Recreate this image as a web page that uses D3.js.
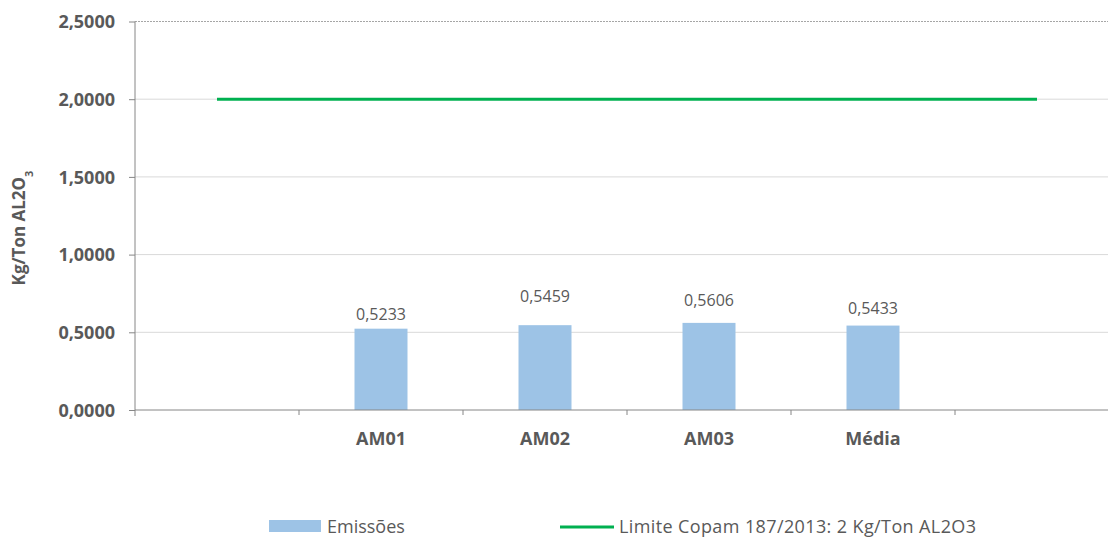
<!DOCTYPE html>
<html>
<head>
<meta charset="utf-8">
<script src="https://cdn.jsdelivr.net/npm/d3@7"></script>
<style>
	body { margin: 0; background: #fff; }
	text { font-family: "Open Sans", sans-serif; fill: #595959; }
</style>
</head>
<body>
<svg id="mainsvg" width="1108" height="537"></svg>
<script>
// data
var categories = ["", "AM01", "AM02", "AM03", "Média", ""];
var emissoes = [null, 0.5233, 0.5459, 0.5606, 0.5433, null];
var limite = [2, 2, 2, 2, 2, 2];
var yTicks = [0, 0.5, 1, 1.5, 2, 2.5];
var seriesNames = ["Emissões", "Limite Copam 187/2013: 2 Kg/Ton AL2O3"];

function drawChart() {
	var svg = d3.select("#mainsvg");
	var pLeft = 135, pRight = 1119, pTop = 21.5, pBottom = 410;
	// labels were nudged by hand in the original, px above bar top
	var labelLift = [0, 8.5, 23, 17, 12, 0];

	var x = d3.scaleBand()
		.domain(d3.range(categories.length))
		.range([pLeft, pRight]);

	var y = d3.scaleLinear()
		.domain([0, 2.5])
		.range([pBottom, pTop]);

	var fmt = function(v) { return v.toFixed(4).replace(".", ","); };

	// gridlines
	svg.append("g")
		.selectAll("line")
		.data(yTicks.filter(function(d) { return d > 0; }))
		.enter().append("line")
		.attr("x1", pLeft)
		.attr("x2", 1108)
		.attr("y1", function(d) { return y(d); })
		.attr("y2", function(d) { return y(d); })
		.attr("stroke", function(d) { return d == 2.5 ? "#a6a6a6" : "#d9d9d9"; })
		.attr("stroke-dasharray", function(d) { return d == 2.5 ? "2,1" : null; })
		.attr("stroke-width", 1);

	var barData = emissoes.map(function(v, i) { return {i: i, v: v}; })
		.filter(function(d) { return d.v != null; });

	// bars
	var bw = 53;
	svg.append("g")
		.selectAll("rect")
		.data(barData)
		.enter().append("rect")
		.attr("x", function(d) { return x(d.i) + x.bandwidth() / 2 - bw / 2; })
		.attr("width", bw)
		.attr("y", function(d) { return y(d.v); })
		.attr("height", function(d) { return pBottom - y(d.v); })
		.attr("fill", "#9dc3e6");

	// value labels
	svg.append("g")
		.selectAll("text")
		.data(barData)
		.enter().append("text")
		.attr("x", function(d) { return x(d.i) + x.bandwidth() / 2; })
		.attr("y", function(d) { return y(d.v) - labelLift[d.i]; })
		.attr("text-anchor", "middle")
		.style("font-size", "16px")
		.text(function(d) { return fmt(d.v); });

	// limit line
	var line = d3.line()
		.x(function(d, i) { return x(i) + x.bandwidth() / 2; })
		.y(function(d) { return y(d); });

	svg.append("path")
		.datum(limite)
		.attr("d", line)
		.attr("fill", "none")
		.attr("stroke", "#00b050")
		.attr("stroke-width", 3);

	// y axis
	var yAxis = svg.append("g")
		.attr("transform", "translate(" + pLeft + ",0)")
		.call(d3.axisLeft(y).tickValues(yTicks).tickSize(6).tickPadding(14).tickFormat(fmt));
	yAxis.select(".domain").attr("stroke", "#868686").attr("d", "M0," + pTop + "V" + (pBottom + 6));
	yAxis.selectAll(".tick line").attr("stroke", "#868686");
	yAxis.selectAll(".tick text")
		.attr("fill", "#595959")
		.style("font-size", "18px")
		.style("font-weight", "bold")
		.attr("dy", "0.35em");

	// x axis
	var xAxis = svg.append("g")
		.attr("transform", "translate(0," + pBottom + ")")
		.call(d3.axisBottom(x).tickSize(0).tickFormat(function(i) { return categories[i]; }));
	xAxis.select(".domain").attr("stroke", "#868686").attr("d", "M" + pLeft + ",0H1108");
	xAxis.selectAll(".tick text")
		.attr("fill", "#595959")
		.attr("y", 35)
		.attr("dy", 0)
		.style("font-size", "18px")
		.style("font-weight", "bold");
	xAxis.append("g")
		.selectAll("line")
		.data(d3.range(1, categories.length))
		.enter().append("line")
		.attr("x1", function(i) { return x(i); })
		.attr("x2", function(i) { return x(i); })
		.attr("y1", 0)
		.attr("y2", 5)
		.attr("stroke", "#868686");

	// y title
	var title = svg.append("text")
		.attr("transform", "translate(25,228) rotate(-90)")
		.attr("text-anchor", "middle")
		.style("font-size", "17px")
		.style("font-weight", "bold");
	title.append("tspan").text("Kg/Ton AL2O");
	title.append("tspan").attr("baseline-shift", "sub").style("font-size", "11px").text("3");

	// legend
	var lg = svg.append("g");
	lg.append("rect")
		.attr("x", 269).attr("y", 520)
		.attr("width", 52).attr("height", 12)
		.attr("fill", "#9dc3e6");
	lg.append("text")
		.attr("x", 327).attr("y", 533)
		.style("font-size", "18px")
		.text(seriesNames[0]);
	lg.append("line")
		.attr("x1", 560).attr("x2", 614)
		.attr("y1", 527).attr("y2", 527)
		.attr("stroke", "#00b050")
		.attr("stroke-width", 3);
	lg.append("text")
		.attr("x", 619).attr("y", 533)
		.attr("textLength", 357)
		.style("font-size", "18px")
		.text(seriesNames[1]);
}

drawChart();
</script>
</body>
</html>
